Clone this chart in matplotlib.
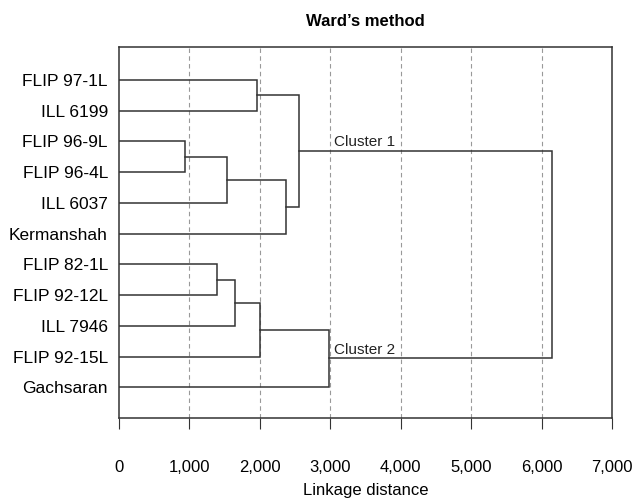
import matplotlib.pyplot as plt

plt.rcParams['font.family'] = ['Liberation Sans Narrow', 'Liberation Sans', 'DejaVu Sans']

# leaves, top to bottom
leaves = ['FLIP 97-1L', 'ILL 6199', 'FLIP 96-9L', 'FLIP 96-4L', 'ILL 6037',
          'Kermanshah', 'FLIP 82-1L', 'FLIP 92-12L', 'ILL 7946', 'FLIP 92-15L',
          'Gachsaran']

# merges: (child a, child b, linkage distance); ints < 11 are leaves,
# 11+ refer to earlier merges in this list
merge_a = [2, 0, 6, 11, 14, 13, 12, 16, 18, 17]
merge_b = [3, 1, 7, 4, 5, 8, 15, 9, 10, 19]
merge_h = [940, 1960, 1390, 1540, 2370, 1640, 2550, 2000, 2980, 6150]

cluster_names = ['Cluster 1', 'Cluster 2']
xticks = [0, 1000, 2000, 3000, 4000, 5000, 6000, 7000]

fig, ax = plt.subplots(figsize=(6.41, 5.01), dpi=100)
fig.subplots_adjust(left=119 / 641, right=612 / 641, top=1 - 47 / 501, bottom=1 - 418 / 501)

n = len(leaves)
ypos = {i: i + 1 for i in range(n)}
xpos = {i: 0 for i in range(n)}
lc = '#333333'
for k, (a, b, h) in enumerate(zip(merge_a, merge_b, merge_h)):
    node = n + k
    ya, yb = ypos[a], ypos[b]
    ax.plot([xpos[a], h, h, xpos[b]], [ya, ya, yb, yb], color=lc, lw=1.1,
            solid_joinstyle='miter')
    ypos[node] = (ya + yb) / 2
    xpos[node] = h

# cluster labels on the two top branches
for name, child in zip(cluster_names, [merge_a[-1], merge_b[-1]]):
    ax.text(3050, ypos[child] - 0.06, name, fontsize=11,
            ha='left', va='bottom', color='#222222')

for x in xticks[1:-1]:
    ax.axvline(x, color='#999999', lw=0.8, ls=(0, (4, 3)), zorder=0)

ax.set_xlim(0, 7000)
ax.set_ylim(12, -0.07)
ax.set_yticks(range(1, n + 1))
ax.set_yticklabels(leaves, fontsize=12.5)
ax.tick_params(axis='y', length=0, pad=8)
ax.set_xticks(xticks)
ax.set_xticklabels(['{:,}'.format(x) for x in xticks], fontsize=12)
ax.tick_params(axis='x', direction='out', length=8, pad=22, color='#333333')
for s in ax.spines.values():
    s.set_color('#333333')
    s.set_linewidth(1.1)

ax.set_xlabel('Linkage distance', fontsize=12, labelpad=6)
ax.set_title("Ward\u2019s method", fontsize=12, fontweight='bold', pad=15,
             family=['Liberation Sans', 'DejaVu Sans'])

plt.savefig('out.png', dpi=100)
